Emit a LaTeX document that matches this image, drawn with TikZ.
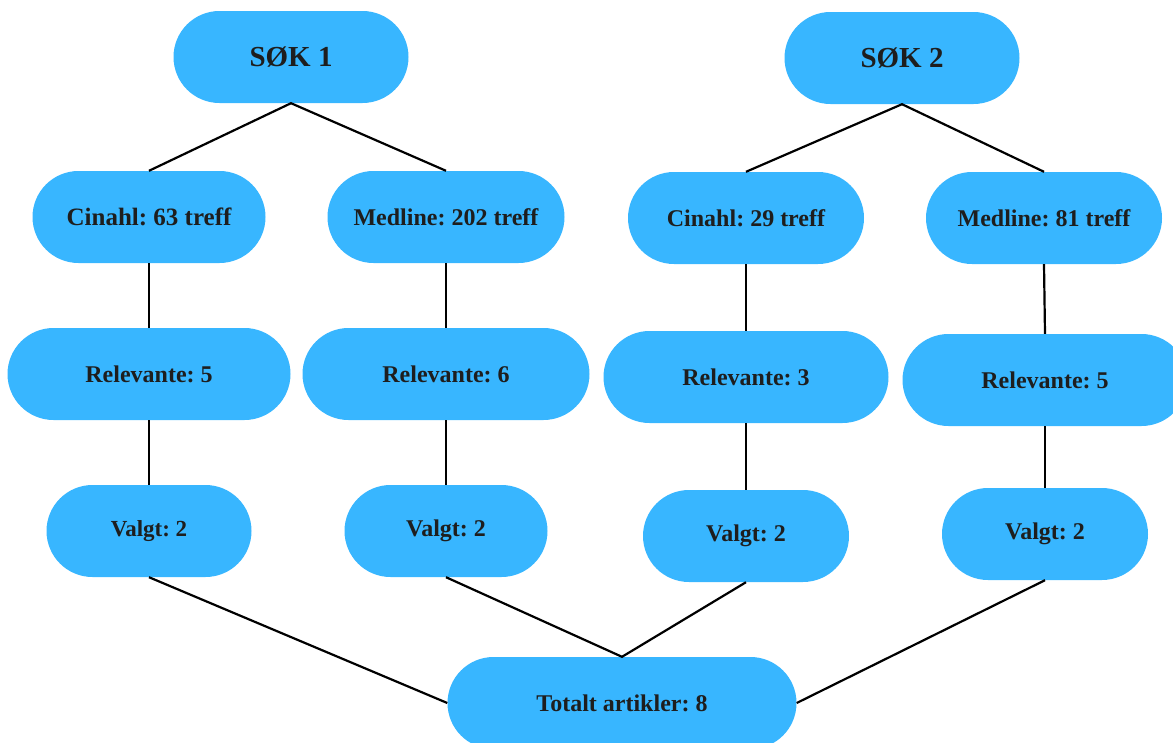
\documentclass[tikz,border=0pt]{standalone}
\usepackage{fontspec}
\setmainfont{Liberation Serif}
\frenchspacing
\definecolor{pill}{HTML}{38B6FF}
\definecolor{ink}{HTML}{1E1E1E}
\begin{document}
\begin{tikzpicture}[x=1pt,y=-1pt,
  pillbox/.style={fill=pill,draw=none,rounded corners=46pt,minimum height=92pt,inner sep=0pt,
    text=ink,font=\bfseries\fontsize{24}{28}\selectfont},
  link/.style={draw=black,line width=2.2pt}]
\useasboundingbox (0,0) rectangle (1173,742);
\node[pillbox,minimum width=235pt,font=\bfseries\fontsize{29}{32}\selectfont] (s1) at (291,57) {SØK 1};
\node[pillbox,minimum width=235pt,font=\bfseries\fontsize{29}{32}\selectfont] (s2) at (902,58) {SØK 2};
\node[pillbox,minimum width=233pt,font=\bfseries\fontsize{25}{28}\selectfont] (c1) at (149,217) {Cinahl: 63 treff};
\node[pillbox,minimum width=237pt] (m1) at (446,217) {Medline: 202 treff};
\node[pillbox,minimum width=236pt] (c2) at (746,218) {Cinahl: 29 treff};
\node[pillbox,minimum width=236pt] (m2) at (1044,218) {Medline: 81 treff};
\node[pillbox,minimum width=283pt] (r1) at (149,374) {Relevante: 5};
\node[pillbox,minimum width=287pt] (r2) at (446,374) {Relevante: 6};
\node[pillbox,minimum width=285pt] (r3) at (746,377) {Relevante: 3};
\node[pillbox,minimum width=285pt] (r4) at (1045,380) {Relevante: 5};
\node[pillbox,minimum width=205pt,font=\bfseries\fontsize{23}{26}\selectfont] (v1) at (149,531) {Valgt: 2};
\node[pillbox,minimum width=203pt] (v2) at (446,531) {Valgt: 2};
\node[pillbox,minimum width=206pt] (v3) at (746,536) {Valgt: 2};
\node[pillbox,minimum width=206pt] (v4) at (1045,534) {Valgt: 2};
\node[pillbox,minimum width=349pt] (t) at (622,703) {Totalt artikler: 8};
\draw[link] (c1.north) -- (s1.south) -- (m1.north);
\draw[link] (c2.north) -- (s2.south) -- (m2.north);
\draw[link] (c1) -- (r1); \draw[link] (r1) -- (v1);
\draw[link] (m1) -- (r2); \draw[link] (r2) -- (v2);
\draw[link] (c2) -- (r3); \draw[link] (r3) -- (v3);
\draw[link] (m2.south) -- (r4.north); \draw[link] (r4) -- (v4);
\draw[link] (v1.south) -- (t.west);
\draw[link] (v2.south) -- (t.north) -- (v3.south);
\draw[link] (v4.south) -- (t.east);
\end{tikzpicture}
\end{document}
